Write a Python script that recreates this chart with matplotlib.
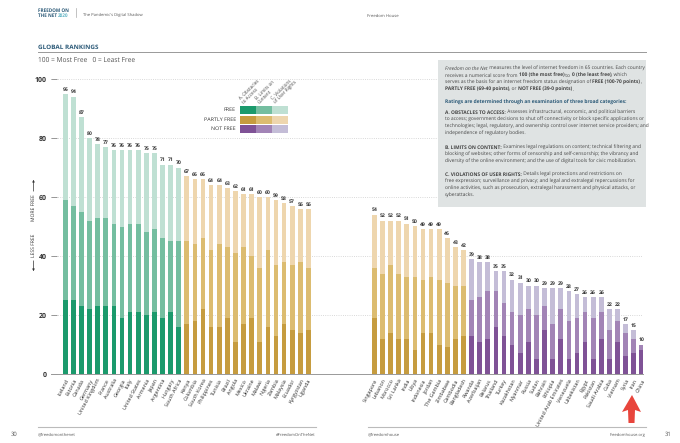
import matplotlib
matplotlib.use('Agg')
import matplotlib.pyplot as plt
import numpy as np
from matplotlib.patches import Rectangle, Polygon

plt.rcParams['font.family'] = ['Open Sans', 'DejaVu Sans']
plt.rcParams['text.hinting'] = 'no_hinting'

# scores, split by category (A obstacles, B limits, C violations)
free_names = ['Iceland', 'Estonia', 'Canada', 'Germany', 'United Kingdom', 'France', 'Australia', 'Georgia',
              'Italy', 'United States', 'Armenia', 'Japan', 'Argentina', 'Hungary', 'South Africa']
free_a = [25, 25, 23, 22, 23, 23, 23, 19, 21, 21, 20, 21, 19, 21, 16]
free_b = [34, 32, 32, 30, 30, 30, 28, 31, 30, 30, 28, 28, 27, 24, 29]
free_c = [36, 37, 32, 28, 25, 24, 25, 26, 25, 25, 27, 26, 25, 26, 25]

partly1_names = ['Kenya', 'Colombia', 'South Korea', 'Philippines', 'Tunisia', 'Brazil', 'Angola', 'Mexico',
                 'Ukraine', 'Malawi', 'Nigeria', 'Zambia', 'Malaysia', 'Ecuador', 'Kyrgyzstan', 'Uganda']
partly1_a = [17, 18, 22, 16, 16, 19, 11, 17, 19, 11, 16, 13, 17, 15, 14, 15]
partly1_b = [28, 26, 24, 26, 28, 24, 30, 26, 21, 25, 26, 24, 21, 22, 24, 21]
partly1_c = [22, 22, 20, 22, 20, 20, 21, 18, 21, 24, 18, 22, 20, 20, 18, 20]

partly2_names = ['Singapore', 'Lebanon', 'Morocco', 'Sri Lanka', 'India', 'Libya', 'Indonesia', 'Jordan',
                 'The Gambia', 'Zimbabwe', 'Cambodia', 'Bangladesh']
partly2_a = [19, 12, 14, 12, 12, 8, 14, 14, 10, 9, 12, 13]
partly2_b = [17, 22, 23, 22, 21, 25, 18, 19, 22, 22, 18, 17]
partly2_c = [18, 18, 15, 18, 18, 17, 17, 16, 17, 15, 13, 12]

notfree_names = ['Rwanda', 'Azerbaijan', 'Belarus', 'Thailand', 'Turkey', 'Kazakhstan', 'Myanmar', 'Russia',
                 'Sudan', 'Bahrain', 'Ethiopia', 'United Arab Emirates', 'Venezuela', 'Uzbekistan', 'Egypt',
                 'Pakistan', 'Saudi Arabia', 'Cuba', 'Vietnam', 'Syria', 'Iran', 'China']
notfree_a = [13, 11, 12, 16, 13, 10, 7, 11, 5, 15, 5, 12, 5, 7, 11, 5, 12, 5, 11, 6, 7, 8]
notfree_b = [12, 15, 16, 12, 11, 11, 13, 11, 15, 8, 12, 10, 13, 12, 10, 14, 9, 10, 7, 8, 5, 2]
notfree_c = [14, 12, 10, 7, 11, 11, 11, 8, 10, 6, 12, 7, 10, 8, 5, 7, 5, 7, 4, 3, 3, 0]

green = ['#1b9a6c', '#74bea0', '#bfe0d3']
gold = ['#c69c3f', '#dcbc70', '#eed6ae']
purple = ['#7f5296', '#a284b6', '#c4bdd7']

W, H = 680, 443
grey = '#555555'
navy = '#2c5a78'

fig = plt.figure(figsize=(W / 100, H / 100), dpi=100)
ax = fig.add_axes([51 / W, 1 - 374 / H, (643 - 51) / W, 295 / H])

groups = [
    (0.0, free_names, free_a, free_b, free_c, green),
    (15.0, partly1_names, partly1_a, partly1_b, partly1_c, gold),
    (38.15, partly2_names, partly2_a, partly2_b, partly2_c, gold),
    (50.15, notfree_names, notfree_a, notfree_b, notfree_c, purple),
]

ticks, labels = [], []
for start, names, a, b, c, cols in groups:
    x = start + np.arange(len(names))
    a, b, c = np.array(a), np.array(b), np.array(c)
    ax.bar(x, a, 0.58, color=cols[0], zorder=2)
    ax.bar(x, b, 0.58, bottom=a, color=cols[1], zorder=2)
    ax.bar(x, c, 0.58, bottom=a + b, color=cols[2], zorder=2)
    for xi, total in zip(x, a + b + c):
        ax.text(xi, total + 0.7, str(total), ha='center', va='bottom', fontsize=3.7,
                fontweight='bold', color='#333333')
    ticks += list(x)
    labels += names

ax.set_xlim(-1.765, 71.3)
ax.set_ylim(0, 100)
ax.set_xticks(ticks)
ax.set_xticklabels(labels, rotation=62, ha='right', va='top', rotation_mode='anchor',
                   fontsize=3.9, color='#222222')
ax.tick_params(axis='x', length=0, pad=3)
ax.set_yticks([0, 20, 40, 60, 80, 100])
ax.set_yticklabels(['0', '20', '40', '60', '80', '100'], fontsize=5, fontweight='bold', color='#333333')
ax.tick_params(axis='y', direction='in', length=4.3, width=0.6, color='#888888', pad=3)
ax.grid(axis='y', color='#cccccc', linestyle=':', linewidth=0.6, zorder=0)
ax.set_axisbelow(True)
for side in ['top', 'right', 'left']:
    ax.spines[side].set_visible(False)
ax.spines['bottom'].set_color('#999999')
ax.spines['bottom'].set_linewidth(0.7)

# page furniture is placed in pixel coordinates on a second axes
ov = fig.add_axes([0, 0, 1, 1])
ov.set_xlim(0, W)
ov.set_ylim(H, 0)
ov.axis('off')
ov.patch.set_alpha(0)


def runs(x, y, parts, size=3.5, color='#444444'):
    # write pieces of one line after another, so bold and italic can mix
    r = fig.canvas.get_renderer()
    for s, weight, style, *col in parts:
        t = ov.text(x, y, s, fontsize=size, fontweight=weight, fontstyle=style,
                    color=col[0] if col else color, va='baseline')
        x += t.get_window_extent(r).width


n, bd, it = 'normal', 'bold', 'italic'

# header
ov.text(38, 11.5, 'FREEDOM ON', fontsize=3.3, fontweight='bold', color=navy, va='baseline')
runs(38, 16.5, [('THE NET ', bd, n), ('2020', bd, n, '#5fb3c4')], size=3.3, color=navy)
ov.plot([75.5, 75.5], [8, 17], color='#aaaaaa', lw=0.5)
ov.text(83, 16.5, "The Pandemic's Digital Shadow", fontsize=3.0, color=grey, va='baseline')
ov.text(367, 16.5, 'Freedom House', fontsize=3.1, color=grey, va='baseline')
ov.text(38, 49, 'GLOBAL RANKINGS', fontsize=4.6, fontweight='bold', color=navy, va='baseline')
ov.plot([38, 646], [51.5, 51.5], color='#999999', lw=0.7)
ov.text(38, 62, '100 = Most Free   0 = Least Free', fontsize=4.8, color=grey, va='baseline')

# side arrows
ov.text(33.5, 208, 'MORE FREE', rotation=90, fontsize=3.6, color='#333333', ha='center', va='center')
ov.text(33.5, 245, 'LESS FREE', rotation=90, fontsize=3.6, color='#333333', ha='center', va='center')
ov.annotate('', xy=(33.5, 177), xytext=(33.5, 194), arrowprops=dict(arrowstyle='-|>', lw=0.5, color='#333333', mutation_scale=3))
ov.annotate('', xy=(33.5, 274), xytext=(33.5, 258), arrowprops=dict(arrowstyle='-|>', lw=0.5, color='#333333', mutation_scale=3))

# legend
rows = [('FREE', green, 106), ('PARTLY FREE', gold, 115.5), ('NOT FREE', purple, 125)]
for name, cols, y in rows:
    ov.text(236, y + 4, name, ha='right', va='center', fontsize=3.9, color='#333333')
    for i, col in enumerate(cols):
        ov.add_patch(Rectangle((240 + 16 * i, y), 16, 8, color=col, lw=0))
heads = ['A. Obstacles\nto Access', 'B. Limits on\nContent', 'C. Violations\nof User Rights']
for i, head in enumerate(heads):
    ov.text(245 + 16 * i, 104.5, head, rotation=45, rotation_mode='anchor', ha='left', va='bottom',
            fontsize=3.3, linespacing=1.0, color='#444444')

# text panel
ov.add_patch(Rectangle((438, 60), 208, 147, color='#dfe3e3', lw=0))
tx = 445
runs(tx, 69.5, [('Freedom on the Net', n, it), (' measures the level of internet freedom in 65 countries. Each country', n, n)])
runs(tx, 76.5, [('receives a numerical score from ', n, n), ('100 (the most free)', bd, n), (' to ', n, n),
                ('0 (the least free)', bd, n), (', which', n, n)])
runs(tx, 83.5, [('serves as the basis for an internet freedom status designation of ', n, n), ('FREE (100-70 points)', bd, n), (',', n, n)])
runs(tx, 90.5, [('PARTLY FREE (69-40 points)', bd, n), (', or ', n, n), ('NOT FREE (39-0 points)', bd, n), ('.', n, n)])
runs(tx, 104, [('Ratings are determined through an examination of three broad categories:', bd, n)], color=navy)
runs(tx, 114, [('A. OBSTACLES TO ACCESS:', bd, n), (' Assesses infrastructural, economic, and political barriers', n, n)])
runs(tx, 121, [('to access; government decisions to shut off connectivity or block specific applications or', n, n)])
runs(tx, 128, [('technologies; legal, regulatory, and ownership control over internet service providers; and', n, n)])
runs(tx, 135, [('independence of regulatory bodies.', n, n)])
runs(tx, 148.5, [('B. LIMITS ON CONTENT:', bd, n), (' Examines legal regulations on content; technical filtering and', n, n)])
runs(tx, 155.5, [('blocking of websites; other forms of censorship and self-censorship; the vibrancy and', n, n)])
runs(tx, 162.5, [('diversity of the online environment; and the use of digital tools for civic mobilization.', n, n)])
runs(tx, 176, [('C. VIOLATIONS OF USER RIGHTS:', bd, n), (' Details legal protections and restrictions on', n, n)])
runs(tx, 183, [('free expression; surveillance and privacy; and legal and extralegal repercussions for', n, n)])
runs(tx, 190, [('online activities, such as prosecution, extralegal harassment and physical attacks, or', n, n)])
runs(tx, 197, [('cyberattacks.', n, n)])

# red arrow under Iran
ov.add_patch(Polygon([(632, 395), (641, 412), (635, 410), (634.5, 423), (628.5, 423), (628, 410), (622, 412)],
                     closed=True, color='#e8453c', lw=0))

# footer
ov.plot([38, 316], [427, 427], color='#bbbbbb', lw=0.8)
ov.plot([368, 646], [427, 427], color='#bbbbbb', lw=0.8)
ov.text(11, 436, '30', fontsize=4.2, color=grey, va='baseline')
ov.text(38, 436, '@freedomonthenet', fontsize=3.0, color=grey, va='baseline')
ov.text(316, 436, '#FreedomOnTheNet', fontsize=3.0, color=grey, va='baseline', ha='right')
ov.text(368, 436, '@freedomhouse', fontsize=3.0, color=grey, va='baseline')
ov.text(646, 436, 'freedomhouse.org', fontsize=3.0, color=grey, va='baseline', ha='right')
ov.text(665, 436, '31', fontsize=4.2, color=grey, va='baseline')

fig.savefig('out.png', dpi=100)
